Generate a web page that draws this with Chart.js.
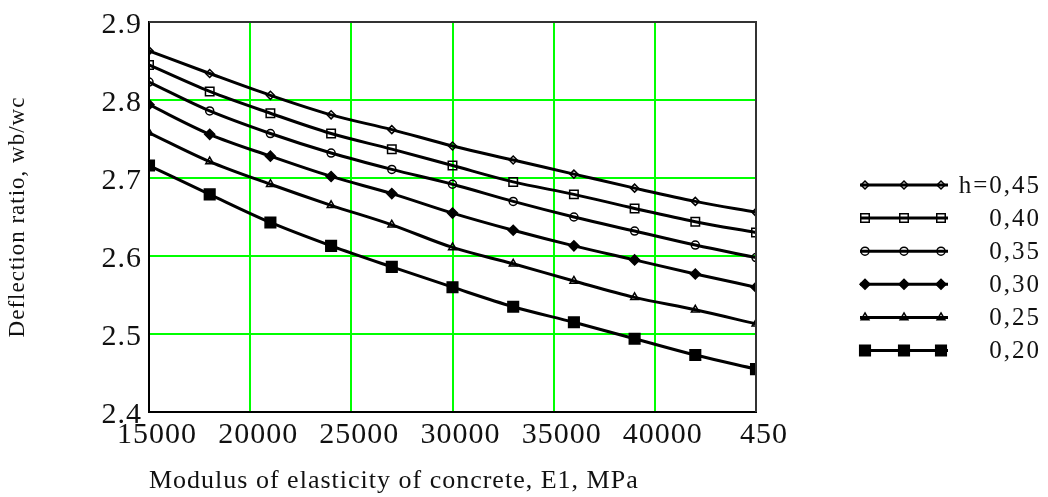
<!DOCTYPE html>
<html>
<head>
<meta charset="utf-8">
<title>Deflection ratio vs modulus of elasticity</title>
<script src="https://cdn.jsdelivr.net/npm/chart.js@4/dist/chart.umd.min.js"></script>
<style>
    html, body { margin: 0; padding: 0; background: #fff; }
    #wrap { width: 1048px; height: 497px; }
</style>
</head>
<body>
<div id="wrap"><canvas id="deflChart" width="1048" height="497"></canvas></div>
<script>
// modulus of elasticity E1, MPa (marker positions)
const eValues = [15000, 18000, 21000, 24000, 27000, 30000, 33000, 36000, 39000, 42000, 45000];

// deflection ratio wb/wc for each h
const h045 = [2.863, 2.834, 2.806, 2.781, 2.762, 2.741, 2.723, 2.705, 2.687, 2.670, 2.656];
const h040 = [2.845, 2.811, 2.783, 2.757, 2.737, 2.716, 2.695, 2.679, 2.661, 2.644, 2.630];
const h035 = [2.823, 2.786, 2.757, 2.732, 2.711, 2.692, 2.670, 2.650, 2.632, 2.614, 2.598];
const h030 = [2.794, 2.756, 2.728, 2.702, 2.680, 2.655, 2.633, 2.613, 2.595, 2.577, 2.560];
const h025 = [2.758, 2.721, 2.692, 2.665, 2.640, 2.611, 2.590, 2.568, 2.547, 2.531, 2.513];
const h020 = [2.716, 2.679, 2.643, 2.613, 2.586, 2.560, 2.535, 2.515, 2.494, 2.473, 2.455];

const seriesLabels = ['h=0,45', '0,40', '0,35', '0,30', '0,25', '0,20'];
const xTickLabels = ['15000', '20000', '25000', '30000', '35000', '40000', '450'];
const yTickLabels = ['2.4', '2.5', '2.6', '2.7', '2.8', '2.9'];

const SERIF = "'Liberation Serif', 'Times New Roman', serif";
const GREEN = '#00ff00';
const NONE = 'rgba(0,0,0,0)';

function toPoints(values) {
    return values.map((v, i) => ({ x: eValues[i], y: v }));
}

function makeSet(label, values, style, radius, filled) {
    return {
        label: label,
        data: toPoints(values),
        borderColor: '#000',
        borderWidth: 3,
        cubicInterpolationMode: 'monotone',
        pointStyle: style,
        pointRadius: radius,
        pointBorderWidth: 1.5,
        pointBorderColor: '#000',
        pointBackgroundColor: filled ? '#000' : NONE,
        fill: false
    };
}

const datasets = [
    makeSet(seriesLabels[0], h045, 'rectRot', 4, false),
    makeSet(seriesLabels[1], h040, 'rect', 6, false),
    makeSet(seriesLabels[2], h035, 'circle', 4, false),
    makeSet(seriesLabels[3], h030, 'rectRot', 5, true),
    makeSet(seriesLabels[4], h025, 'triangle', 4.5, false),
    makeSet(seriesLabels[5], h020, 'rect', 7.5, true)
];

// the original text is a little wider than Liberation Serif
const spacing = {
    id: 'spacing',
    beforeDraw(chart) {
        chart.ctx.letterSpacing = '1px';
    }
};

// top and right edges of the plot frame
const framePlugin = {
    id: 'frame',
    afterDraw(chart) {
        const { ctx, chartArea: a } = chart;
        ctx.save();
        ctx.strokeStyle = '#333';
        ctx.lineWidth = 2;
        ctx.beginPath();
        ctx.moveTo(a.left, a.top);
        ctx.lineTo(a.right, a.top);
        ctx.lineTo(a.right, a.bottom);
        ctx.stroke();
        ctx.restore();
    }
};

// legend with a line sample and three markers per series
const sideLegend = {
    id: 'sideLegend',
    afterDraw(chart) {
        const ctx = chart.ctx;
        const x0 = 860, x1 = 948, textRight = 1041, top = 185, step = 33.1;
        ctx.save();
        chart.data.datasets.forEach((ds, i) => {
            const y = top + i * step;
            ctx.strokeStyle = '#000';
            ctx.lineWidth = 3;
            ctx.beginPath();
            ctx.moveTo(x0, y);
            ctx.lineTo(x1, y);
            ctx.stroke();
            [x0 + 5, (x0 + x1) / 2, x1 - 7].forEach(mx => {
                ctx.fillStyle = ds.pointBackgroundColor;
                ctx.strokeStyle = ds.pointBorderColor;
                ctx.lineWidth = ds.pointBorderWidth;
                Chart.helpers.drawPoint(ctx, {
                    pointStyle: ds.pointStyle,
                    radius: ds.pointRadius,
                    rotation: 0,
                    borderWidth: ds.pointBorderWidth
                }, mx, y);
            });
            ctx.fillStyle = '#111';
            ctx.font = '25px ' + SERIF;
            ctx.letterSpacing = '2px';
            ctx.textAlign = 'right';
            ctx.textBaseline = 'middle';
            ctx.fillText(ds.label, textRight, y + 1);
        });
        ctx.restore();
    }
};

const ctx = document.getElementById('deflChart').getContext('2d');
new Chart(ctx, {
    type: 'line',
    data: { datasets: datasets },
    plugins: [spacing, framePlugin, sideLegend],
    options: {
        responsive: false,
        animation: false,
        devicePixelRatio: 1,
        layout: { padding: { top: 20, right: 292, left: 0, bottom: 0 } },
        plugins: {
            legend: { display: false },
            tooltip: { enabled: false }
        },
        scales: {
            x: {
                type: 'linear',
                min: 15000,
                max: 45000,
                afterFit(scale) { scale.height = 85; },
                ticks: {
                    stepSize: 5000,
                    maxRotation: 0,
                    autoSkip: false,
                    padding: 5,
                    labelOffset: 8,
                    color: '#111',
                    font: { family: SERIF, size: 30, lineHeight: 1.2 },
                    callback: (v, i) => xTickLabels[i]
                },
                grid: {
                    drawTicks: false,
                    lineWidth: 2,
                    color: c => (c.index === 0 || c.index === xTickLabels.length - 1) ? NONE : GREEN
                },
                border: { display: true, color: '#000', width: 2 },
                title: {
                    display: true,
                    text: 'Modulus of elasticity of concrete, E1, MPa',
                    align: 'start',
                    color: '#111',
                    font: { family: SERIF, size: 26, lineHeight: 1.2 },
                    padding: { top: 0, bottom: 0 }
                }
            },
            y: {
                min: 2.4,
                max: 2.9,
                afterFit(scale) { scale.width = 149; },
                ticks: {
                    stepSize: 0.1,
                    padding: 7,
                    labelOffset: 3,
                    color: '#111',
                    font: { family: SERIF, size: 30, lineHeight: 1 },
                    callback: (v, i) => yTickLabels[i]
                },
                grid: {
                    drawTicks: false,
                    lineWidth: 2,
                    color: c => (c.index === 0 || c.index === yTickLabels.length - 1) ? NONE : GREEN
                },
                border: { display: true, color: '#000', width: 2 },
                title: {
                    display: true,
                    text: 'Deflection ratio, wb/wc',
                    color: '#111',
                    font: { family: SERIF, size: 23, lineHeight: 1.2 },
                    padding: { top: 4, bottom: 0 }
                }
            }
        }
    }
});
</script>
</body>
</html>
